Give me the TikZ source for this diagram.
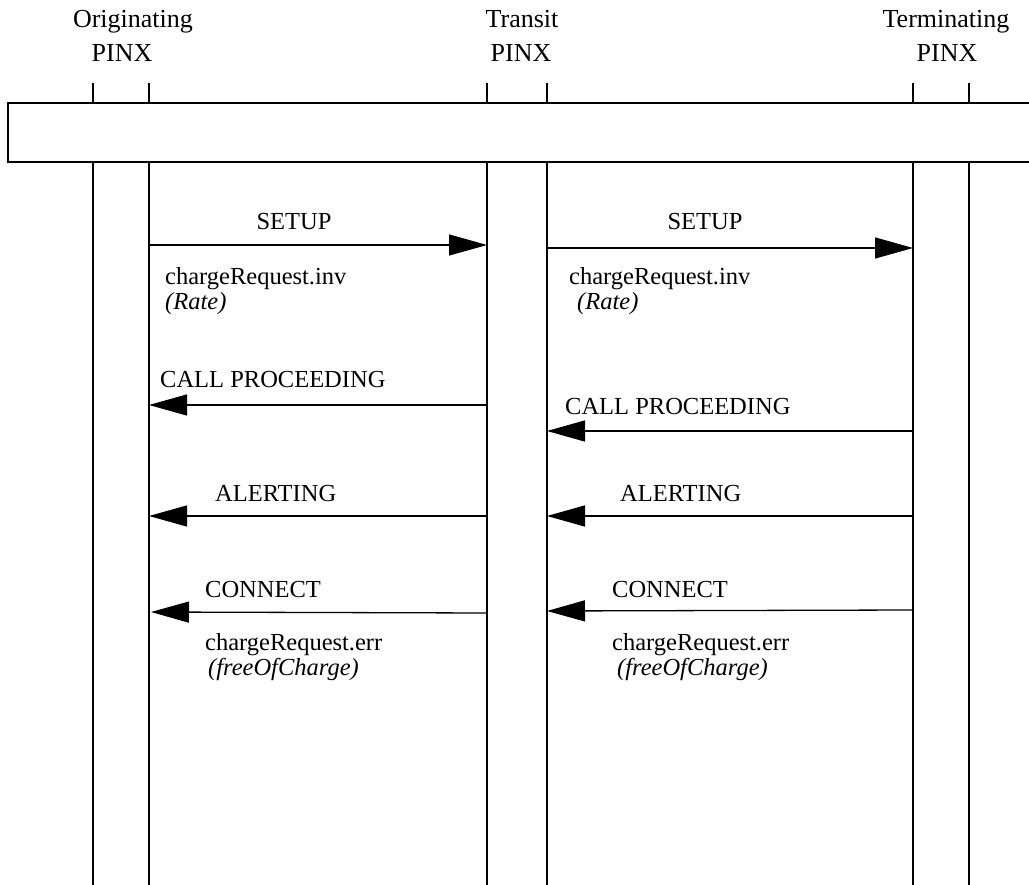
\documentclass[tikz,border=0pt]{standalone}
\usepackage{fontspec}
\setmainfont{Liberation Serif}
\usetikzlibrary{arrows.meta}
\begin{document}
\begin{tikzpicture}[x=1pt,y=-1pt,
  life/.style={line width=1.2pt},
  msg/.style={line width=1.3pt,-{Triangle[length=38pt,width=21pt]}},
  hdr/.style={font=\fontsize{26}{30}\selectfont,anchor=base,inner sep=0pt},
  lbl/.style={font=\fontsize{24.5}{28}\selectfont,anchor=base west,inner sep=0pt},
  lblc/.style={lbl,anchor=base},
]
\useasboundingbox (0,0) rectangle (1029,885);
\begin{scope}
\clip (0,0) rectangle (1029,885);
% header box
\draw[life] (8,103) rectangle (1045,162);
% lifelines
\foreach \n/\x in {oa/93,ob/149,ta/487,tb/547,ra/913,rb/969}{
  \coordinate (\n top) at (\x,83);
  \coordinate (\n boxtop) at (\x,103);
  \coordinate (\n boxbot) at (\x,162);
  \coordinate (\n bot) at (\x,885);
  \draw[life] (\n top) -- (\n boxtop);
  \draw[life] (\n boxbot) -- (\n bot);
}
\end{scope}

% header texts
\node[hdr] (h1a) at (133,28) {Originating};
\node[hdr] (h1b) at (122,62) {PINX};
\node[hdr] (h2a) at (522,28) {Transit};
\node[hdr] (h2b) at (521,62) {PINX};
\node[hdr] (h3a) at (946,28) {Terminating};
\node[hdr] (h3b) at (947,62) {PINX};

% message endpoints
\coordinate (s1a) at (149,245); \coordinate (s1b) at (487,245);
\coordinate (s2a) at (547,248); \coordinate (s2b) at (913,248);
\coordinate (c1a) at (487,405); \coordinate (c1b) at (149,405);
\coordinate (c2a) at (913,431); \coordinate (c2b) at (547,431);
\coordinate (a1a) at (487,516); \coordinate (a1b) at (149,516);
\coordinate (a2a) at (913,516); \coordinate (a2b) at (547,516);
\coordinate (n1a) at (487,613); \coordinate (n1b) at (151,612);
\coordinate (n2a) at (913,610); \coordinate (n2b) at (547,611);

\draw[msg] (s1a) -- (s1b);
\draw[msg] (s2a) -- (s2b);
\draw[msg] (c1a) -- (c1b);
\draw[msg] (c2a) -- (c2b);
\draw[msg] (a1a) -- (a1b);
\draw[msg] (a2a) -- (a2b);
\draw[msg] (n1a) -- (n1b);
\draw[msg] (n2a) -- (n2b);

% labels
\node[lblc] (l1) at (294,230) {SETUP};
\node[lbl] (l2) at (165,285) {chargeRequest.inv};
\node[lbl] (l3) at (165,310) {\itshape (Rate)};
\node[lblc] (r1) at (705,230) {SETUP};
\node[lbl] (r2) at (569,285) {chargeRequest.inv};
\node[lbl] (r3) at (577,310) {\itshape (Rate)};

\node[lbl] (l4) at (160,388) {CALL PROCEEDING};
\node[lbl] (r4) at (565,415) {CALL PROCEEDING};

\node[lbl] (l5) at (215,501) {ALERTING};
\node[lbl] (r5) at (620,501) {ALERTING};

\node[lbl] (l6) at (205,597) {CONNECT};
\node[lbl] (l7) at (205,650) {chargeRequest.err};
\node[lbl] (l8) at (208,675) {\itshape (freeOfCharge)};
\node[lbl] (r6) at (612,597) {CONNECT};
\node[lbl] (r7) at (612,650) {chargeRequest.err};
\node[lbl] (r8) at (617,675) {\itshape (freeOfCharge)};
\end{tikzpicture}
\end{document}
